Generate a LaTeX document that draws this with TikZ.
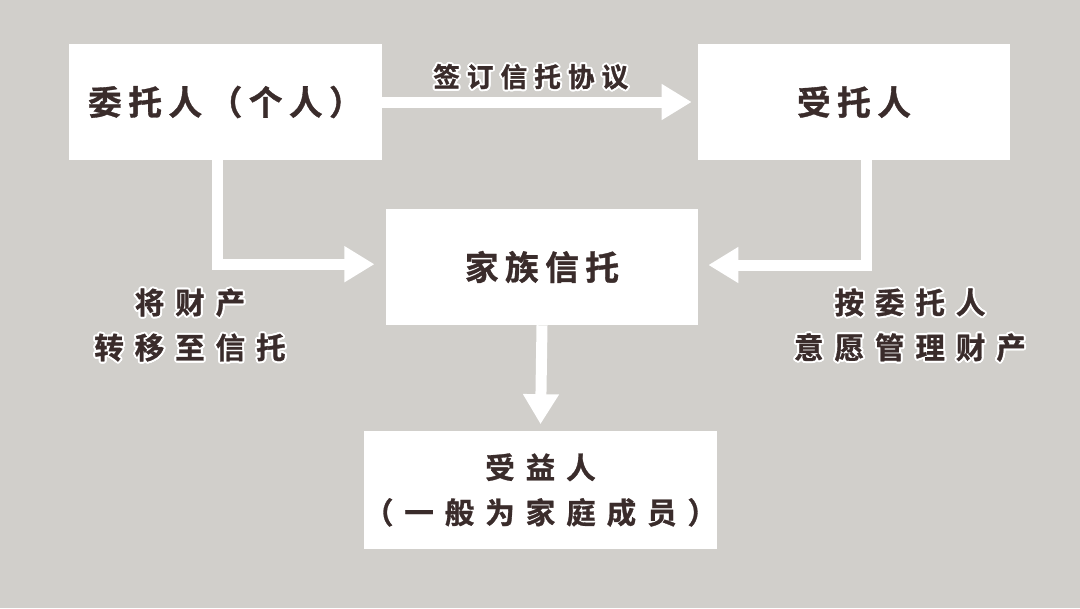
\documentclass[tikz,border=0pt]{standalone}
\usepackage{fontspec}
\usepackage{contour}
\usetikzlibrary{arrows.meta}

\newfontfamily\boxfont[LetterSpace=19, FakeBold=1]{Noto Sans CJK SC Bold}
\newfontfamily\notefont[LetterSpace=37, FakeBold=1]{Noto Sans CJK SC Bold}
\newfontfamily\topfont[LetterSpace=26, FakeBold=1]{Noto Sans CJK SC Bold}
\definecolor{bg}{RGB}{209,207,203}
\definecolor{ink}{RGB}{58,44,43}
\contourlength{1.4pt}
\contournumber{16}

\tikzset{
  box/.style={fill=white, minimum width=7.8cm, minimum height=2.9cm, inner sep=0pt,
    text=ink, font=\boxfont\fontsize{24}{32}\selectfont},
  arr/.style={draw=white, line width=0.275cm, -{Triangle[width=0.85cm,length=0.75cm]}},
  note/.style={text=ink, align=center, inner sep=0pt, font=\notefont\fontsize{21}{32}\selectfont},
}

\begin{document}
\begin{tikzpicture}[x=0.025cm, y=-0.025cm]
  \fill[bg] (0,0) rectangle (1080,608);

  \node[box] (settlor) at (225.5,102) {委托人（个人）};
  \node[box] (trustee) at (854,102) {受托人};
  \node[box] (trust) at (542,267) {家族信托};
  \node[box, minimum width=8.675cm, minimum height=2.925cm, align=center,
    font=\notefont\fontsize{21}{32}\selectfont] (benef) at (540.5,490) {受益人\\（一般为家庭成员）};

  \draw[arr] (settlor.east) -- node[above=0.125cm, xshift=-0.15cm, inner sep=0pt, text=ink,
    font=\topfont\fontsize{19}{24}\selectfont] {\contour{white}{签订信托协议}} ([xshift=-0.15cm]trustee.west);
  \draw[arr] ([xshift=-0.19cm]settlor.south) |- ([xshift=-0.28cm, yshift=0.07cm]trust.west);
  \draw[arr] ([xshift=0.3cm]trustee.south) |- ([xshift=0.25cm, yshift=0.05cm]trust.east);
  \draw[arr] (trust.south) -- ([yshift=0.175cm]benef.north);

  \node[note] (move) at (190,326) {\contour{white}{将财产}\\\contour{white}{转移至信托}};
  \node[note] (manage) at (910,326) {\contour{white}{按委托人}\\\contour{white}{意愿管理财产}};
\end{tikzpicture}
\end{document}
